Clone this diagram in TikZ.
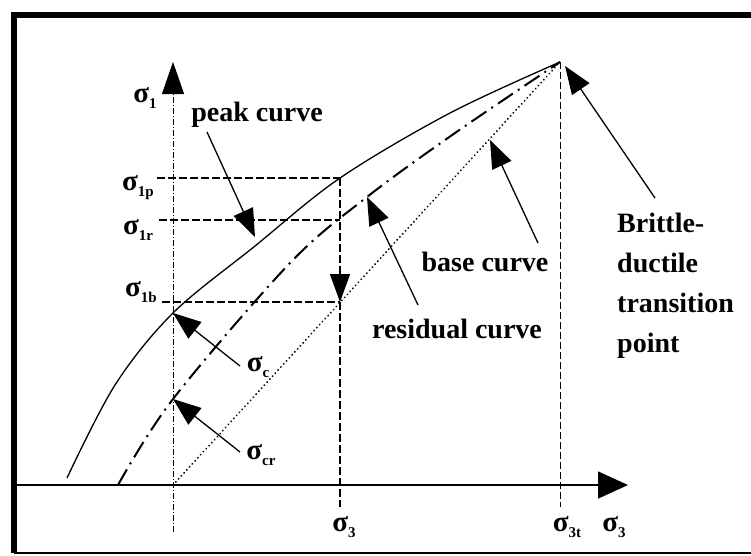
\documentclass[tikz,border=0pt]{standalone}
\usepackage{fontspec}
\setmainfont{Liberation Serif}
\usetikzlibrary{arrows.meta}
\newcommand\sgm[1]{σ\raisebox{-6pt}{\fontsize{15}{15}\selectfont #1}}
\begin{document}
\begin{tikzpicture}[x=1pt,y=-1pt,
  lbl/.style={font=\fontsize{28}{40}\selectfont\bfseries, inner sep=0pt},
  sg/.style={font=\fontsize{29}{29}\selectfont\bfseries, inner sep=0pt},
  bigtip/.style={-{Triangle[length=28pt,width=21pt]}},
  pointer/.style={line width=1.3pt, bigtip},
  refdash/.style={line width=1.6pt, dash pattern=on 8pt off 3pt},
  thindash/.style={line width=1pt, dash pattern=on 7pt off 3pt},
  axisdd/.style={line width=0.8pt, dash pattern=on 6pt off 2pt on 1pt off 2pt},
  peakline/.style={line width=1.3pt},
  resline/.style={line width=2pt, dash pattern=on 18pt off 6pt on 2pt off 6pt},
  baseline/.style={line width=2pt, line cap=round, dash pattern=on 0.1pt off 4pt}
]
\useasboundingbox (0,0) rectangle (751,555);
\fill[white] (0,0) rectangle (751,555);
% frame
\coordinate (fTL) at (14,15);
\coordinate (fTR) at (751,15);
\coordinate (fBL) at (14,553);
\coordinate (fBR) at (751,553);
\draw[line width=6pt] (fTR) -- (fTL) -- (fBL);
\draw[line width=2pt] (fBL) -- (fBR);

% key points
\coordinate (O) at (173,485);
\coordinate (T) at (560,62);
\coordinate (P) at (340,178);
\coordinate (R) at (340,220);
\coordinate (B) at (340,302);

% axes
\coordinate (ybot) at (173,532);
\coordinate (ytop) at (173,62);
\coordinate (xl) at (14,485);
\coordinate (xr) at (628,485);
\draw[axisdd] (ybot) -- (173,92);
\draw[-{Triangle[length=32pt,width=22pt]}, line width=0.8pt] (173,95) -- (ytop);
\draw[line width=1.5pt, -{Triangle[length=30pt,width=27pt]}] (xl) -- (xr);

% reference lines
\coordinate (p0) at (157,178);
\coordinate (r0) at (159,220);
\coordinate (b0) at (162,302);
\draw[refdash] (p0) -- (P);
\draw[refdash] (r0) -- (R);
\draw[refdash] (b0) -- (B);
\draw[refdash, -{Triangle[length=28pt,width=20pt]}] (P) -- (B);
\coordinate (s3b) at (340,507);
\draw[refdash] (B) -- (s3b);
\coordinate (s3tb) at (560,507);
\draw[thindash] (T) -- (s3tb);

% curves
\draw[peakline] plot[smooth, tension=0.55] coordinates {(67,478) (115,385) (173,313) (255,246) (340,178) (450,113) (T)};
\draw[resline] plot[smooth, tension=0.55] coordinates {(118,485) (173,399) (290,263) (367,197) (455,133) (T)};
\draw[baseline] (O) -- (T);

% labels
\node[sg] (l1) at (145,98) {\sgm{1}};
\node[sg] (l1p) at (138,188) {\sgm{1p}};
\node[sg] (l1r) at (138,230) {\sgm{1r}};
\node[sg] (l1b) at (141,292) {\sgm{1b}};
\node[sg] (lc) at (258,367) {\sgm{c}};
\node[sg] (lcr) at (261,455) {\sgm{cr}};
\node[sg] (l3) at (344,527) {\sgm{3}};
\node[sg] (l3t) at (567,527) {\sgm{3t}};
\node[sg] (l3r) at (614,527) {\sgm{3}};

\node[lbl] (peak) at (257,115) {peak curve};
\node[lbl] (base) at (485,262) {base curve};
\node[lbl] (resid) at (457,329) {residual curve};
\node[lbl, align=left, anchor=north west] (bdt) at (617,213) {Brittle-\\ductile\\transition\\point};

% pointers
\coordinate (peakT) at (207,132);
\coordinate (peakH) at (255,237);
\draw[pointer] (peakT) -- (peakH);
\coordinate (resT) at (418,305);
\coordinate (resH) at (367,197);
\draw[pointer] (resT) -- (resH);
\coordinate (baseT) at (538,243);
\coordinate (baseH) at (490,140);
\draw[pointer] (baseT) -- (baseH);
\coordinate (bdtT) at (655,198);
\coordinate (bdtH) at (565,66);
\draw[pointer] (bdtT) -- (bdtH);
\coordinate (cT) at (240,366);
\coordinate (cH) at (173,313);
\draw[pointer] (cT) -- (cH);
\coordinate (crT) at (240,452);
\coordinate (crH) at (173,399);
\draw[pointer] (crT) -- (crH);
\end{tikzpicture}
\end{document}
